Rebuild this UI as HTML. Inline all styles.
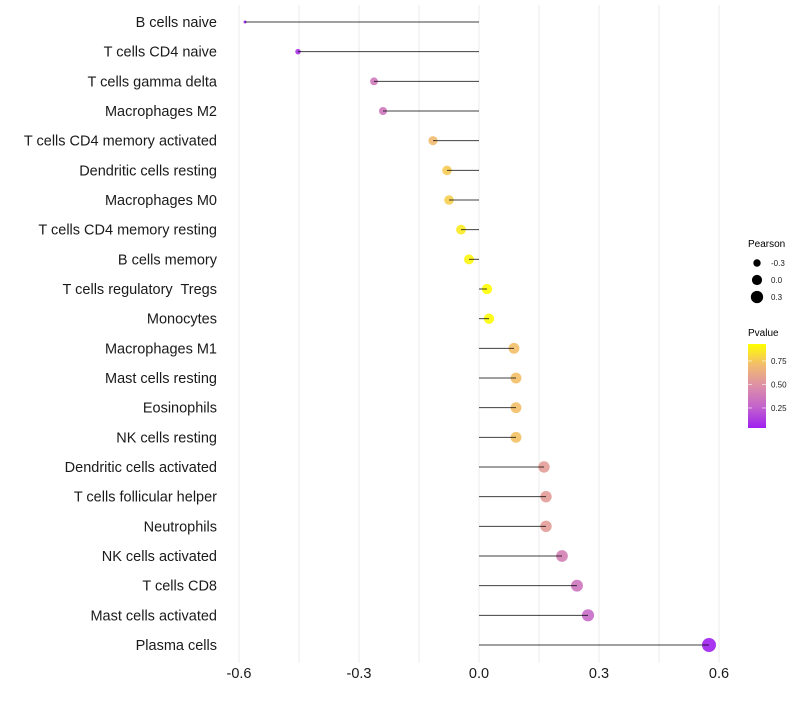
<!DOCTYPE html>
<html><head><meta charset="utf-8">
<style>
body{margin:0;background:#fff;}
svg text{font-family:"Liberation Sans",sans-serif;}
</style></head>
<body>
<svg id="chart" width="800" height="700" xmlns="http://www.w3.org/2000/svg">
<defs>
<linearGradient id="pgrad" x1="0" y1="1" x2="0" y2="0">
<stop offset="0" stop-color="#a020f0"/>
<stop offset="0.25" stop-color="#c263cc"/>
<stop offset="0.5" stop-color="#dd8fa8"/>
<stop offset="0.75" stop-color="#f2bb6e"/>
<stop offset="1" stop-color="#ffff00"/>
</linearGradient>
</defs>
<g id="grid"></g>
<g id="marks"></g>
<g id="ylabels"></g>
<g id="xlabels"></g>
<g>
<text x="748" y="247" font-size="10">Pearson</text>
<g id="sizeLeg"></g>
</g>
<g>
<text x="748" y="336" font-size="10">Pvalue</text>
<rect x="748" y="344" width="18" height="84" fill="url(#pgrad)"/>
<g id="colLeg"></g>
</g>
</svg>
<script>
const categories = ["B cells naive","T cells CD4 naive","T cells gamma delta","Macrophages M2","T cells CD4 memory activated","Dendritic cells resting","Macrophages M0","T cells CD4 memory resting","B cells memory","T cells regulatory  Tregs","Monocytes","Macrophages M1","Mast cells resting","Eosinophils","NK cells resting","Dendritic cells activated","T cells follicular helper","Neutrophils","NK cells activated","T cells CD8","Mast cells activated","Plasma cells"];
const pearson = [-0.585,-0.4525,-0.2625,-0.24,-0.115,-0.08,-0.075,-0.045,-0.025,0.02,0.025,0.0875,0.0925,0.0925,0.0925,0.1625,0.1675,0.1675,0.2075,0.245,0.2725,0.575];
const pvalue = [0.04,0.1,0.37,0.36,0.7,0.76,0.77,0.86,0.9,0.93,0.92,0.72,0.72,0.72,0.73,0.55,0.55,0.55,0.4,0.35,0.3,0.04];
const xTicks = [-0.6,-0.3,0,0.3,0.6];
const xTickLabels = ["-0.6","-0.3","0.0","0.3","0.6"];
const gridVals = [-0.6,-0.45,-0.3,-0.15,0,0.15,0.3,0.45,0.6];
const sizeLegVals = [-0.3,0,0.3];
const sizeLegLabels = ["-0.3","0.0","0.3"];
const colLegVals = [0.25,0.5,0.75];
const colLegLabels = ["0.25","0.50","0.75"];

const NS="http://www.w3.org/2000/svg";
const x = v => 479 + v*400;
const y = i => 22 + i*(623/21);
const r = v => Math.sqrt(Math.max(1.5, 25.8 + 40.3*v));
const stops=[[0,[160,32,240]],[0.25,[194,99,204]],[0.5,[221,143,168]],[0.75,[242,187,110]],[1,[255,255,0]]];
function col(p){
  let t=(p-0.037)/(0.93-0.037); t=Math.max(0,Math.min(1,t));
  for(let k=0;k<stops.length-1;k++){
    const a=stops[k],b=stops[k+1];
    if(t<=b[0]){const u=(t-a[0])/(b[0]-a[0]);
      return "rgb("+a[1].map((c,j)=>Math.round(c+(b[1][j]-c)*u)).join(",")+")";}
  }
  return "rgb(255,255,0)";
}
function mk(tag,attrs,parent){const e=document.createElementNS(NS,tag);for(const k in attrs)e.setAttribute(k,attrs[k]);parent.appendChild(e);return e;}
const grid=document.getElementById('grid'),marks=document.getElementById('marks'),yl=document.getElementById('ylabels'),xl=document.getElementById('xlabels');
gridVals.forEach(v=>{
  const l=mk('line',{x1:x(v),x2:x(v),y1:5,y2:663,stroke:'#ebebeb','stroke-width':1},grid);
  
  
});
categories.forEach((c,i)=>{
  const cy=y(i);
  const dot=mk('circle',{cx:x(pearson[i]),cy:cy,r:r(pearson[i]),fill:col(pvalue[i]),'fill-opacity':0.9},marks);
  
  
  const seg=mk('line',{x1:x(0),x2:x(pearson[i]),y1:cy,y2:cy,stroke:'#000','stroke-width':1,'stroke-opacity':0.75},marks);
  
  
  const t=mk('text',{x:217,y:cy+5,'text-anchor':'end','font-size':14.5,fill:'#1a1a1a',style:'white-space:pre'},yl);
  t.textContent=c;
  
  
});
xTicks.forEach((v,i)=>{
  const t=mk('text',{x:x(v),y:678,'text-anchor':'middle','font-size':14.5,fill:'#1a1a1a'},xl);
  t.textContent=xTickLabels[i];
  
  
});
const sl=document.getElementById('sizeLeg');
sizeLegVals.forEach((v,i)=>{
  const cy=263+i*17;
  const c=mk('circle',{cx:757,cy:cy,r:r(v),fill:'#000'},sl);
  
  
  const t=mk('text',{x:771,y:cy+3,'font-size':8,fill:'#1a1a1a'},sl);
  t.textContent=sizeLegLabels[i];
  
  
});
const cl=document.getElementById('colLeg');
colLegVals.forEach((v,i)=>{
  const cy=428-(v-0.037)/(0.93-0.037)*84;
  const tk=mk('line',{x1:748,x2:752,y1:cy,y2:cy,stroke:'#fff','stroke-width':1,'stroke-opacity':0.6},cl);
  
  
  const tk2=mk('line',{x1:762,x2:766,y1:cy,y2:cy,stroke:'#fff','stroke-width':1,'stroke-opacity':0.6},cl);
  
  
  const t=mk('text',{x:771,y:cy+3,'font-size':8,fill:'#1a1a1a'},cl);
  t.textContent=colLegLabels[i];
  
  
});
</script>
</body></html>
